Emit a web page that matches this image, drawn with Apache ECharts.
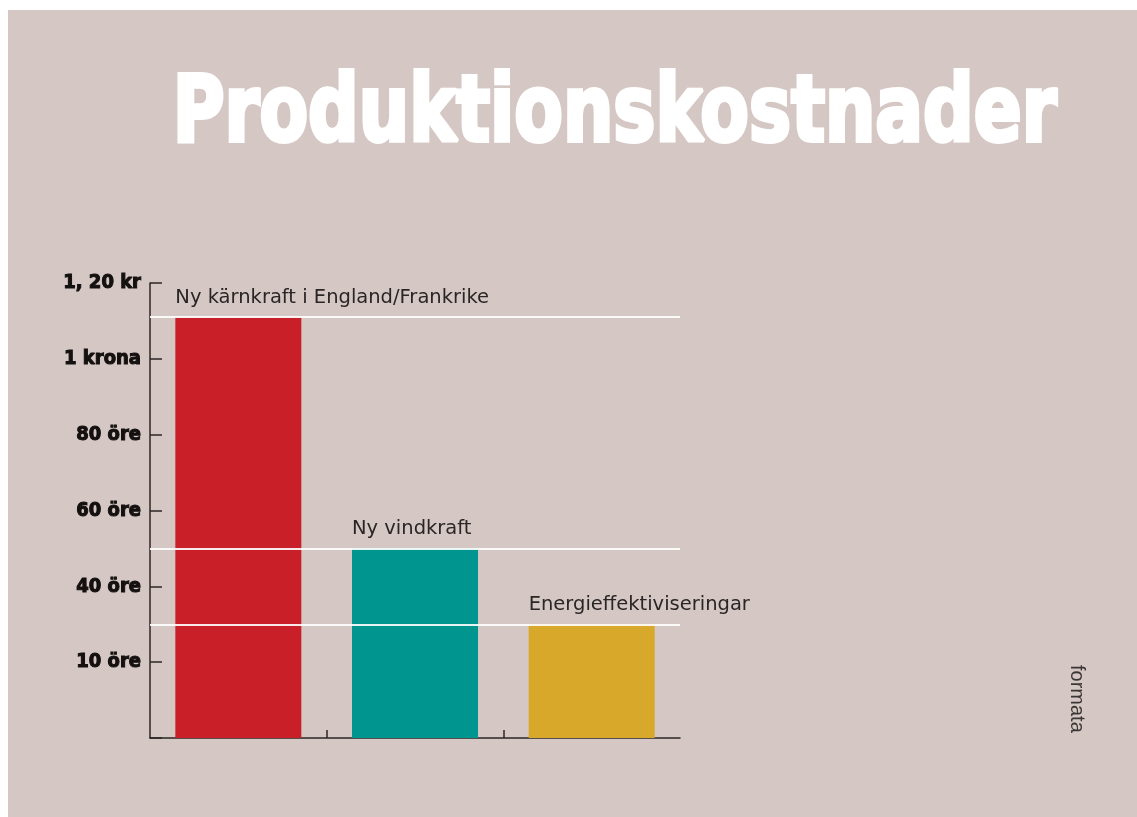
<!DOCTYPE html>
<html>
<head>
<meta charset="utf-8">
<script src="https://cdn.jsdelivr.net/npm/echarts@6/dist/echarts.min.js"></script>
<style>
html,body{margin:0;padding:0;background:#ffffff;width:1137px;height:817px;overflow:hidden;}
#chart{position:absolute;left:8px;top:10px;width:1129px;height:807px;background:#d5c8c4;}
</style>
</head>
<body>
<div id="chart"></div>
<script>
// ---- data ----
var categories = ['Ny kärnkraft i England/Frankrike', 'Ny vindkraft', 'Energieffektiviseringar'];
var costOre = [111, 50, 30];            // öre per kWh
var barColors = ['#c91f28', '#00968f', '#d8a82b'];
var tickValues = [0, 20, 40, 60, 80, 100, 120];
var tickLabels = ['', '10 öre', '40 öre', '60 öre', '80 öre', '1 krona', '1, 20 kr'];
var bandTicks = [1, 2];
var titleText = 'Produktionskostnader';
var creditText = 'formata';

var condensed = '"Liberation Sans Narrow", "DejaVu Sans Condensed", "Roboto Condensed", sans-serif';

// horizontal squeeze for the condensed heavy title
var cv = document.createElement('canvas').getContext('2d');
cv.font = 'bold 93px ' + condensed;
var titleW = cv.measureText(titleText).width;
var titleScaleX = 884 / titleW;

var chart = echarts.init(document.getElementById('chart'), null, {renderer: 'canvas'});

var option = {
  backgroundColor: '#d5c8c4',
  animation: false,
  grid: {left: 142, top: 273, width: 530, bottom: 79, containLabel: false},
  xAxis: [{
    type: 'category',
    data: categories,
    boundaryGap: true,
    axisLine: {lineStyle: {color: '#2b2626', width: 1.5}},
    axisTick: {show: false},
    axisLabel: {show: false},
    splitLine: {show: false}
  }, {
    type: 'value',
    min: 0, max: categories.length,
    position: 'bottom',
    axisLine: {show: false},
    axisTick: {show: true, inside: true, length: 8, customValues: bandTicks,
               lineStyle: {color: '#2b2626', width: 1.5}},
    axisLabel: {show: false},
    splitLine: {show: false}
  }],
  yAxis: {
    type: 'value',
    min: 0, max: 120, interval: 20,
    axisLine: {show: true, lineStyle: {color: '#2b2626', width: 1.5}},
    axisTick: {show: true, inside: true, length: 12, lineStyle: {color: '#2b2626', width: 1.5}},
    splitLine: {show: false},
    axisLabel: {
      margin: 9,
      color: '#141010',
      fontFamily: condensed,
      fontWeight: 'bold',
      fontSize: 20,
      textBorderColor: '#141010',
      textBorderWidth: 1,
      formatter: function (v) {
        var i = tickValues.indexOf(v);
        return i >= 0 ? tickLabels[i] : '';
      }
    }
  },
  series: [{
    type: 'bar',
    xAxisIndex: 0,
    data: costOre.map(function (v, i) {
      return {value: v, itemStyle: {color: barColors[i]},
              label: {formatter: categories[i]}};
    }),
    barWidth: 126,
    label: {
      show: true,
      position: [0, -19],
      align: 'left',
      verticalAlign: 'middle',
      color: '#2a2626',
      fontFamily: '"DejaVu Sans", "Liberation Sans", Arial, sans-serif',
      fontSize: 19.5
    },
    markLine: {
      silent: true,
      symbol: 'none',
      z: 5,
      label: {show: false},
      lineStyle: {color: 'rgba(255,255,255,0.9)', width: 2, type: 'solid'},
      data: costOre.map(function (v) { return {yAxis: v}; })
    }
  }],
  graphic: [
    {
      type: 'text',
      left: 163, top: 58,
      scaleX: titleScaleX,
      style: {
        text: titleText,
        fill: '#ffffff',
        font: 'bold 93px ' + condensed,
        stroke: '#ffffff',
        lineWidth: 4
      }
    },
    {
      type: 'text',
      x: 1069, y: 655,
      rotation: -Math.PI / 2,
      style: {
        text: creditText,
        fill: '#3c3636',
        font: '20px "Liberation Sans", Arial, sans-serif',
        verticalAlign: 'middle'
      }
    }
  ]
};
chart.setOption(option);
</script>
</body>
</html>
